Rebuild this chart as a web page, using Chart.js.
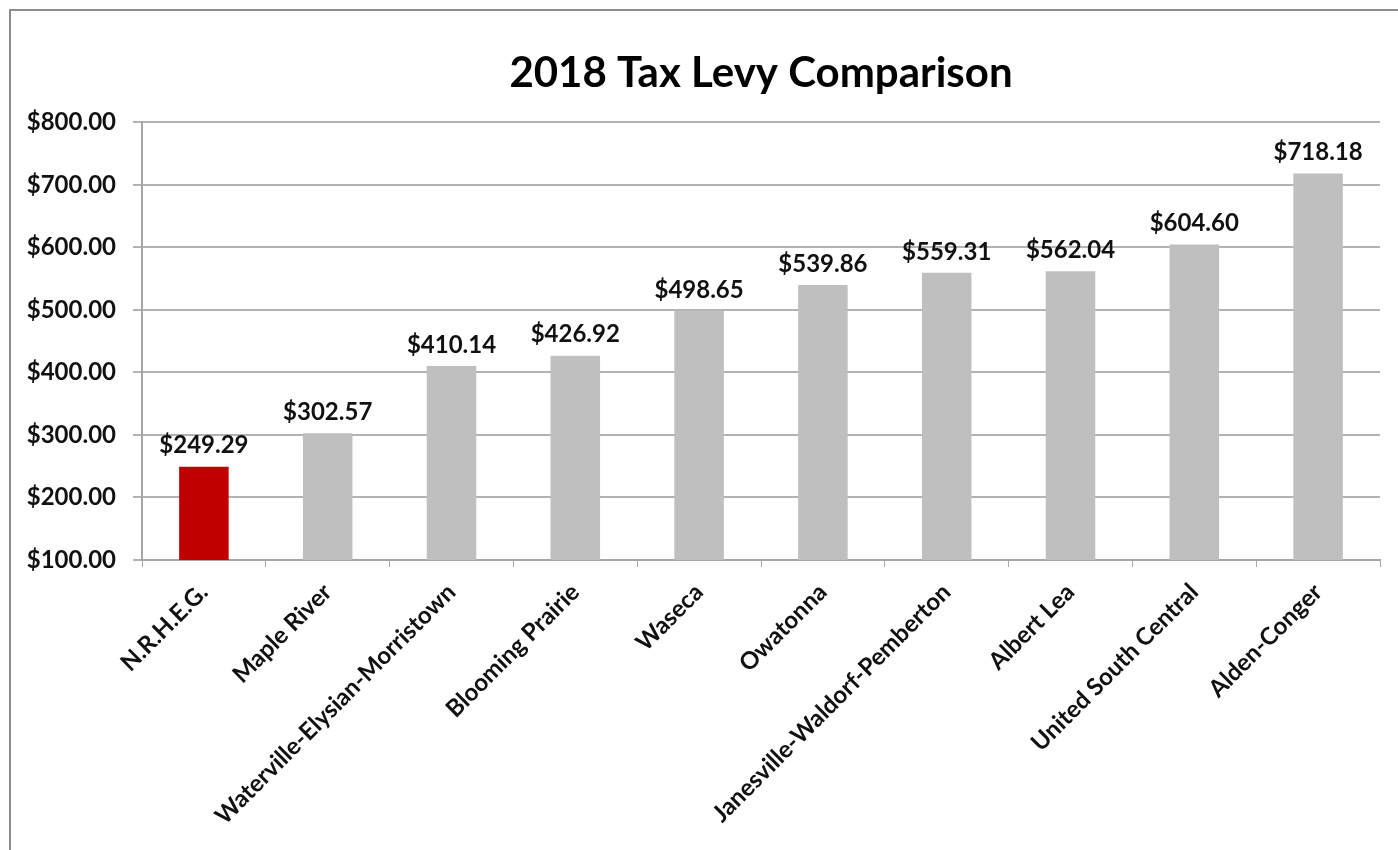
<!DOCTYPE html>
<html>
<head>
<meta charset="utf-8">
<script src="https://cdn.jsdelivr.net/npm/chart.js@4.4.1/dist/chart.umd.min.js"></script>
<style>
  html, body { margin: 0; padding: 0; background: #fff; }
  #wrap { width: 1398px; height: 850px; position: relative; }
</style>
</head>
<body>
<div id="wrap"><canvas id="levyChart"></canvas></div>
<script>
// districts and 2018 levy amounts
var distritos = ['N.R.H.E.G.', 'Maple River', 'Waterville-Elysian-Morristown', 'Blooming Prairie', 'Waseca',
    'Owatonna', 'Janesville-Waldorf-Pemberton', 'Albert Lea', 'United South Central', 'Alden-Conger'];
var valores = [249.29, 302.57, 410.14, 426.92, 498.65, 539.86, 559.31, 562.04, 604.60, 718.18];
var cores = ['#C00000', '#BFBFBF', '#BFBFBF', '#BFBFBF', '#BFBFBF', '#BFBFBF', '#BFBFBF', '#BFBFBF', '#BFBFBF', '#BFBFBF'];
var ticksY = [100, 200, 300, 400, 500, 600, 700, 800];

var fonte = 'Lato, "Open Sans", sans-serif';

function dinheiro(v) {
    return '$' + Number(v).toFixed(2);
}

// frame around the chart (only top and left are visible in the picture)
var moldura = {
    id: 'moldura',
    beforeDraw: function (chart) {
        var c = chart.ctx;
        c.save();
        c.fillStyle = '#fff';
        c.fillRect(0, 0, chart.width, chart.height);
        c.strokeStyle = '#8c8c8c';
        c.lineWidth = 2;
        c.beginPath();
        c.moveTo(10, chart.height);
        c.lineTo(10, 10);
        c.lineTo(chart.width, 10);
        c.stroke();
        c.restore();
    }
};

// value labels above each bar
var rotulos = {
    id: 'rotulos',
    afterDatasetsDraw: function (chart) {
        var c = chart.ctx;
        var meta = chart.getDatasetMeta(0);
        c.save();
        c.font = 'bold 24px ' + fonte;
        c.fillStyle = '#111';
        c.textAlign = 'center';
        c.textBaseline = 'bottom';
        meta.data.forEach(function (bar, i) {
            c.fillText(dinheiro(valores[i]), bar.x, bar.y - 9);
        });
        c.restore();
    }
};

var ctx = document.getElementById('levyChart').getContext('2d');

var grafico = new Chart(ctx, {
    type: 'bar',
    data: {
        labels: distritos,
        datasets: [{
            data: valores,
            backgroundColor: cores,
            borderWidth: 0,
            barPercentage: 0.4,
            categoryPercentage: 1.0
        }]
    },
    options: {
        responsive: true,
        maintainAspectRatio: false,
        animation: false,
        layout: { padding: { left: 0, right: 18, top: 0, bottom: 0 } },
        plugins: {
            legend: { display: false },
            tooltip: { enabled: false },
            title: {
                display: true,
                fullSize: false,
                text: '2018 Tax Levy Comparison',
                color: '#000',
                font: { family: fonte, size: 42, weight: 'bold' },
                padding: { top: 48, bottom: 24 }
            }
        },
        scales: {
            x: {
                grid: {
                    drawOnChartArea: false,
                    drawTicks: true,
                    tickLength: 7,
                    color: '#a6a6a6',
                    offset: true
                },
                border: { color: '#a6a6a6', width: 2 },
                ticks: {
                    color: '#111',
                    font: { family: fonte, size: 24, weight: 'bold' },
                    maxRotation: 45,
                    minRotation: 45,
                    autoSkip: false,
                    padding: 11
                },
                afterFit: function (scale) {
                    scale.height = 850 - 560;
                }
            },
            y: {
                min: 100,
                max: 800,
                afterBuildTicks: function (scale) {
                    scale.ticks = ticksY.map(function (v) { return { value: v }; });
                },
                grid: {
                    color: '#b3b3b3',
                    lineWidth: 2,
                    tickLength: 9
                },
                border: { color: '#a6a6a6', width: 2 },
                ticks: {
                    color: '#111',
                    font: { family: fonte, size: 24, weight: 'bold' },
                    padding: 17,
                    callback: function (v) { return dinheiro(v); }
                },
                afterFit: function (scale) {
                    scale.width = 142;
                }
            }
        }
    },
    plugins: [moldura, rotulos]
});
</script>
</body>
</html>
